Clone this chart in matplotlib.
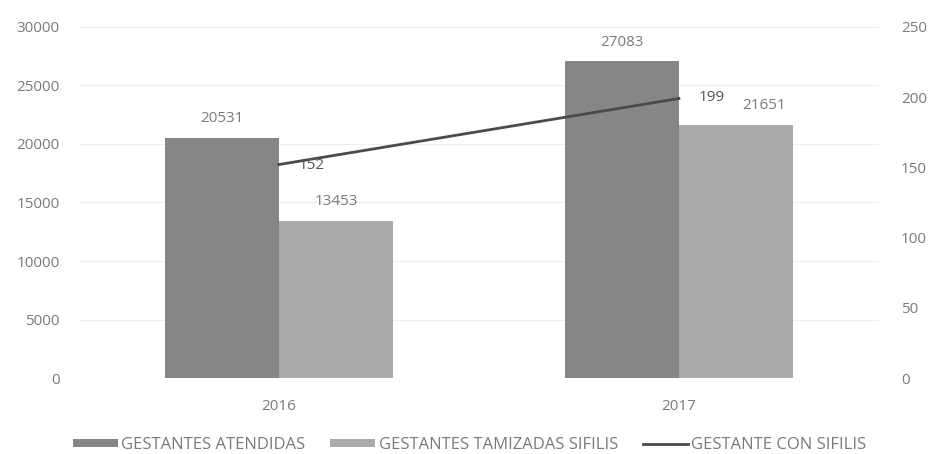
import matplotlib
matplotlib.use("Agg")
import matplotlib.pyplot as plt
import numpy as np

# ── DATA ────────────────────────────────────────────────────────────────────
years      = ["2016", "2017"]
atendidas  = [20531, 27083]
tamizadas  = [13453, 21651]
con_sifilis = [152, 199]

left_ticks  = [0, 5000, 10000, 15000, 20000, 25000, 30000]
right_ticks = [0, 50, 100, 150, 200, 250]

DARK  = "#868686"
LIGHT = "#aaaaaa"
LINE  = "#4a4a4a"
TEXT  = "#7a7a7a"

plt.rcParams["font.family"] = ["Open Sans", "DejaVu Sans"]

fig = plt.figure(figsize=(9.3, 4.54), dpi=100)
ax = fig.add_axes([0.085, 0.167, 0.86, 0.774])
ax2 = ax.twinx()

x = np.arange(len(years))
w = 0.285
b1 = ax.bar(x - w / 2, atendidas, w, color=DARK, label="GESTANTES ATENDIDAS", zorder=2)
b2 = ax.bar(x + w / 2, tamizadas, w, color=LIGHT, label="GESTANTES TAMIZADAS SIFILIS", zorder=2)

for xi, v in zip(x - w / 2, atendidas):
    ax.text(xi, v + 1600, str(v), ha="center", va="center", fontsize=11, color=TEXT)
# second label of 2017 pushed right by Excel to avoid the line label
shift = [0.0, 0.07]
for xi, v, s in zip(x + w / 2, tamizadas, shift):
    ax.text(xi + s, v + 1600, str(v), ha="center", va="center", fontsize=11, color=TEXT)

ax.set_ylim(0, 30000)
ax.set_xlim(-0.5, 1.5)
ax.set_yticks(left_ticks)
ax.set_xticks(x)
ax.set_xticklabels(years)
ax.grid(axis="y", color="#eeeeee", linewidth=0.8, zorder=0)
ax.set_axisbelow(True)

ln, = ax2.plot(x, con_sifilis, color=LINE, linewidth=2, label="GESTANTE CON SIFILIS", zorder=3)
ax2.text(x[0] + 0.05, con_sifilis[0] - 1, str(con_sifilis[0]), ha="left", va="center",
         fontsize=11, color="#555555")
ax2.text(x[1] + 0.05, con_sifilis[1] + 1, str(con_sifilis[1]), ha="left", va="center",
         fontsize=11, color="#555555")
ax2.set_ylim(0, 250)
ax2.set_yticks(right_ticks)

for a in (ax, ax2):
    for s in a.spines.values():
        s.set_visible(False)
    a.tick_params(length=0, colors=TEXT, labelsize=11)
ax.tick_params(axis="y", pad=14)
ax.tick_params(axis="x", pad=15)
ax2.tick_params(axis="y", pad=16)

handles = [b1, b2, ln]
leg = fig.legend(handles, [h.get_label() for h in handles], loc="center",
                 bbox_to_anchor=(0.505, 0.02), ncol=3, frameon=False,
                 fontsize=12, handlelength=2.7, handleheight=0.45,
                 columnspacing=1.5, handletextpad=0.2, borderpad=0)
for t in leg.get_texts():
    t.set_color(TEXT)

fig.savefig("out.png", dpi=100, facecolor="white")
